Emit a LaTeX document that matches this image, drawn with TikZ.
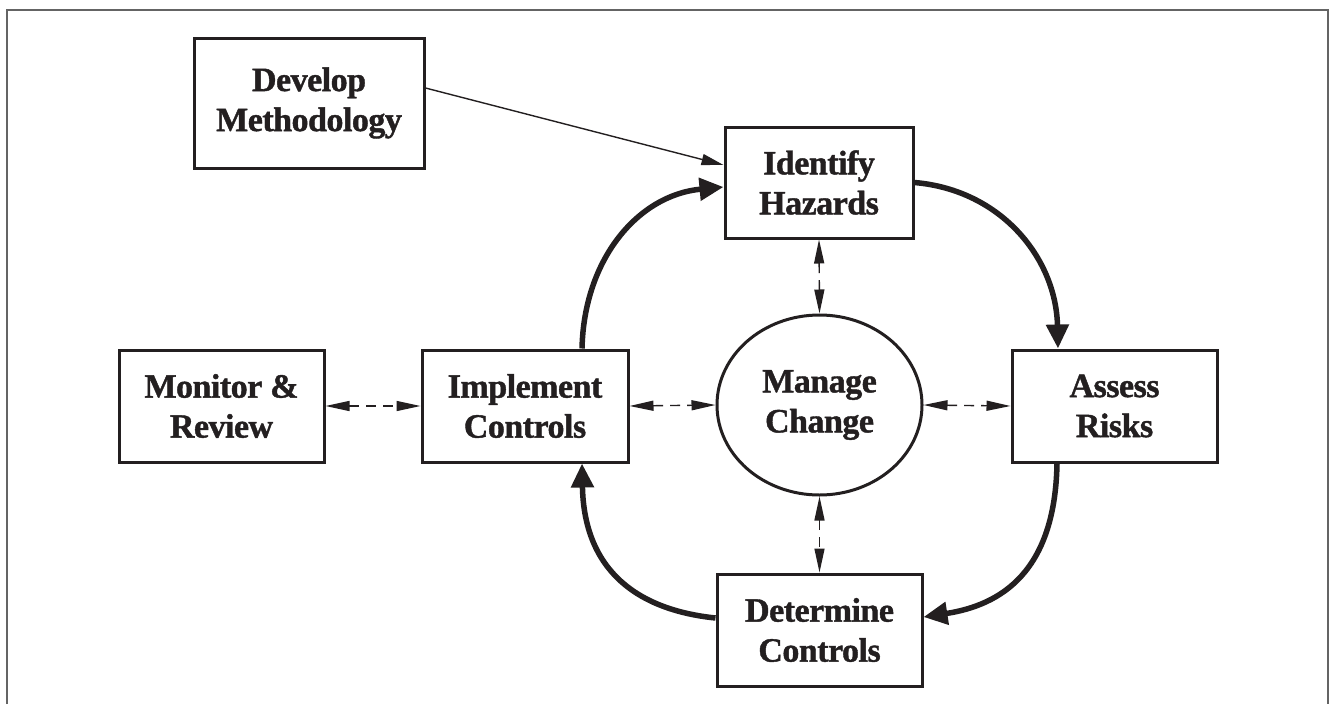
\documentclass[tikz,border=0pt]{standalone}
\usepackage{fontspec}
\setmainfont{Liberation Serif}[BoldFeatures={FakeBold=1.2,LetterSpace=-1.5}]
\usetikzlibrary{arrows.meta,shapes.geometric,calc}
\definecolor{ink}{RGB}{35,31,32}
\definecolor{framegray}{RGB}{100,100,100}
\begin{document}
\begin{tikzpicture}[x=1pt,y=-1pt,
  lbl/.style={text=ink,align=center,inner sep=0pt,font=\fontsize{34}{40}\selectfont\bfseries},
  box/.style={lbl,draw=ink,line width=3pt,rectangle},
  oval/.style={lbl,draw=ink,line width=3pt,ellipse},
  bigarrow/.style={draw=ink,line width=5.5pt,-{Triangle[length=24pt,width=22pt]}},
  thinarrow/.style={draw=ink,line width=1.4pt,-{Triangle[length=22pt,width=11pt]}},
  dasharrow/.style={draw=ink,line width=1.4pt,dash pattern=on 10pt off 7pt,{Triangle[length=24pt,width=10pt]}-{Triangle[length=24pt,width=10pt]}}]
\useasboundingbox (0,0) rectangle (1332,704);
\fill[white] (0,0) rectangle (1332,704);
\draw[framegray,line width=2pt] (7,704) -- (7,10) -- (1328,10) -- (1328,704);

\node[box,minimum width=230pt,minimum height=130pt] (dev) at (309,103) {Develop\\Methodology};
\node[box,minimum width=188pt,minimum height=111pt] (ident) at (819,182.5) {Identify\\Hazards};
\node[box,minimum width=205pt,minimum height=112pt] (assess) at (1114.5,406) {Assess\\Risks};
\node[box,minimum width=205pt,minimum height=112pt] (monitor) at (221.5,406) {Monitor \&\\Review};
\node[box,minimum width=206pt,minimum height=112pt] (impl) at (525,406) {Implement\\Controls};
\node[oval,minimum width=205pt,minimum height=180pt] (manage) at (819.5,405) {Manage\\Change};
\node[box,minimum width=205pt,minimum height=112pt] (determ) at (819.5,630) {Determine\\Controls};

% thin arrow
\draw[thinarrow] ([yshift=15pt]dev.east) -- ([yshift=17.5pt]ident.west);

% thick cycle
\draw[bigarrow] ($(impl.north)+(57,0)$) .. controls +(2,-90) and +(-85,8) .. ($(ident.west)+(0,4.5)$);
\draw[bigarrow] (ident.east) .. controls +(87,7.5) and +(-2,-90) .. ($(assess.north)+(-56.5,0)$);
\draw[bigarrow] ($(assess.south)+(-57.5,0)$) .. controls +(-2,108) and +(78,-12) .. ($(determ.east)+(0,-13)$);
\draw[bigarrow] ($(determ.west)+(0,-12)$) .. controls +(-77,-8) and +(2,108) .. ($(impl.south)+(57,0)$);

% dashed double arrows
\draw[dasharrow] (monitor.east) -- (impl.west);
\draw[dasharrow] (impl.east) -- (manage.west);
\draw[dasharrow] (manage.east) -- (assess.west);
\draw[dasharrow] (ident.south) -- (manage.north);
\draw[dasharrow] (manage.south) -- (determ.north);
\end{tikzpicture}
\end{document}
